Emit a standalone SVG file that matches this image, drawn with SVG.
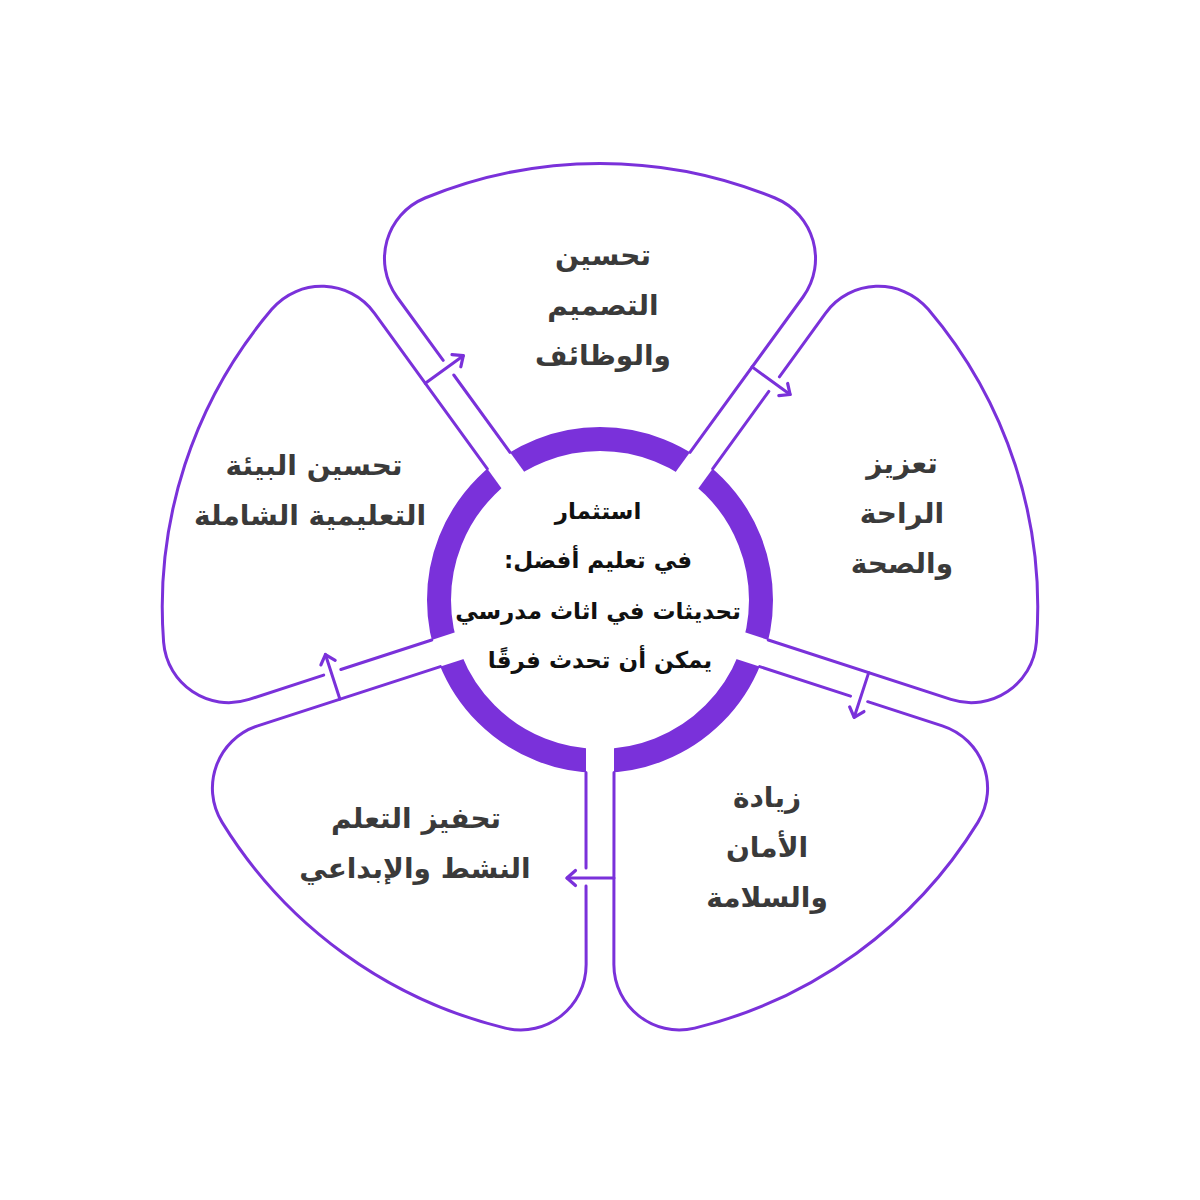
<svg xmlns="http://www.w3.org/2000/svg" width="1200" height="1200" viewBox="0 0 1200 1200">
<style>
.petal{fill:none;stroke:#7A31DA;stroke-width:3;stroke-linecap:round;stroke-linejoin:round}
.arrow{fill:none;stroke:#7A31DA;stroke-width:3;stroke-linecap:round;marker-end:url(#ah)}
.lbl{font-family:"DejaVu Sans",sans-serif;font-weight:bold;font-size:28px;fill:#3a3a3a;text-anchor:middle;direction:rtl}
.ctr{font-family:"DejaVu Sans",sans-serif;font-weight:bold;font-size:23px;fill:#111;text-anchor:middle;direction:rtl}
</style>
<defs>
<marker id="ah" markerUnits="userSpaceOnUse" viewBox="-12 -12 24 24" markerWidth="24" markerHeight="24" refX="0" refY="0" orient="auto" overflow="visible">
<path d="M -8.5 -7.5 L 0 0 L -8.5 7.5" fill="none" stroke="#7A31DA" stroke-width="3.2" stroke-linecap="round" stroke-linejoin="round"/>
</marker>
<path id="petalShape" d="M 510,452.3 L 453.8,375 M 443.2,360.4 L 397,297 C 372.1,262.7 385.8,214.2 425,198 A 460 460 0 0 1 775,198 C 814.2,214.2 827.9,262.7 803,297 L 690,452.3"/>
<mask id="ringGaps" maskUnits="userSpaceOnUse" x="0" y="0" width="1200" height="1200">
<rect x="0" y="0" width="1200" height="1200" fill="#fff"/>
<g fill="#000">
<rect x="586" y="730" width="28" height="60"/>
<rect x="586" y="730" width="28" height="60" transform="rotate(72 600 600)"/>
<rect x="586" y="730" width="28" height="60" transform="rotate(144 600 600)"/>
<rect x="586" y="730" width="28" height="60" transform="rotate(216 600 600)"/>
<rect x="586" y="730" width="28" height="60" transform="rotate(288 600 600)"/>
</g>
</mask>
</defs>
<rect x="0" y="0" width="1200" height="1200" fill="#fff"/>
<g id="center">
<circle cx="600" cy="600" r="161" fill="none" stroke="#7A31DA" stroke-width="24" mask="url(#ringGaps)"/>
<text class="ctr" x="598" y="519">استثمار</text>
<text class="ctr" x="598" y="568">في تعليم أفضل:</text>
<text class="ctr" x="598" y="619">تحديثات في اثاث مدرسي</text>
<text class="ctr" x="600" y="668">يمكن أن تحدث فرقًا</text>
</g>
<g id="petal-design">
<use href="#petalShape" class="petal"/>
<text class="lbl" x="603" y="265">تحسين</text>
<text class="lbl" x="603" y="315">التصميم</text>
<text class="lbl" x="603" y="365">والوظائف</text>
</g>
<g id="petal-comfort">
<use href="#petalShape" class="petal" transform="rotate(72 600 600)"/>
<text class="lbl" x="902" y="473">تعزيز</text>
<text class="lbl" x="902" y="523">الراحة</text>
<text class="lbl" x="902" y="573">والصحة</text>
</g>
<g id="petal-safety">
<use href="#petalShape" class="petal" transform="rotate(144 600 600)"/>
<text class="lbl" x="767" y="807">زيادة</text>
<text class="lbl" x="767" y="857">الأمان</text>
<text class="lbl" x="767" y="907">والسلامة</text>
</g>
<g id="petal-active">
<use href="#petalShape" class="petal" transform="rotate(216 600 600)"/>
<text class="lbl" x="416" y="828">تحفيز التعلم</text>
<text class="lbl" x="415" y="878">النشط والإبداعي</text>
</g>
<g id="petal-environment">
<use href="#petalShape" class="petal" transform="rotate(288 600 600)"/>
<text class="lbl" x="314" y="475">تحسين البيئة</text>
<text class="lbl" x="310" y="525">التعليمية الشاملة</text>
</g>
<g id="connectors">
<line class="arrow" x1="752.1" y1="366.9" x2="790.1" y2="394.5"/>
<line class="arrow" x1="752.1" y1="366.9" x2="790.1" y2="394.5" transform="rotate(72 600 600)"/>
<line class="arrow" x1="752.1" y1="366.9" x2="790.1" y2="394.5" transform="rotate(144 600 600)"/>
<line class="arrow" x1="752.1" y1="366.9" x2="790.1" y2="394.5" transform="rotate(216 600 600)"/>
<line class="arrow" x1="752.1" y1="366.9" x2="790.1" y2="394.5" transform="rotate(288 600 600)"/>
</g>
</svg>
